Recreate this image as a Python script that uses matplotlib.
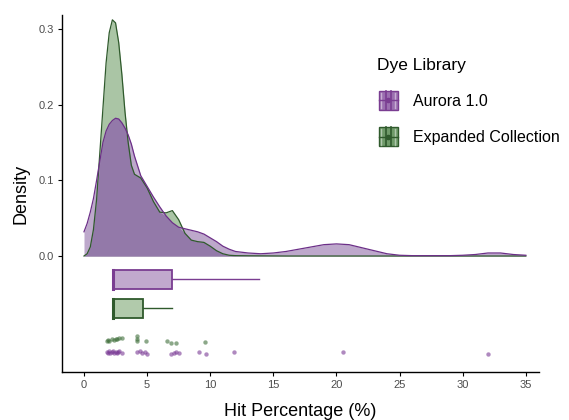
import matplotlib.pyplot as plt
import numpy as np
from matplotlib.legend_handler import HandlerBase
from matplotlib.patches import Rectangle
from matplotlib.lines import Line2D

plt.rcParams['font.family'] = ['Liberation Sans', 'DejaVu Sans']

# density curves (shared x grid)
dens_x = [0, 0.25, 0.5, 0.75, 1.0, 1.25, 1.5, 1.75, 2.0, 2.25, 2.5, 2.75, 3.0, 3.25, 3.5, 3.75, 4.0,
          4.5, 5.0, 5.5, 6.0, 6.5, 7.0, 7.5, 8.0, 8.5, 9.0, 9.5, 10.0, 10.5, 11.0, 11.5, 12.0,
          13, 14, 15, 16, 17, 18, 19, 20, 21, 22, 23, 24, 25, 26, 27, 28, 29, 30, 31, 32, 33, 34, 35]
aurora_dens = [0.032, 0.043, 0.058, 0.076, 0.100, 0.125, 0.150, 0.165, 0.174, 0.179, 0.182, 0.181, 0.176,
               0.169, 0.160, 0.148, 0.132, 0.106, 0.092, 0.078, 0.065, 0.053, 0.044, 0.038, 0.036, 0.034,
               0.032, 0.029, 0.024, 0.019, 0.013, 0.009, 0.006, 0.004, 0.003, 0.004, 0.006, 0.009, 0.012,
               0.015, 0.016, 0.015, 0.011, 0.007, 0.003, 0.001, 0.0005, 0.0005, 0.0005, 0.0005, 0.001,
               0.002, 0.004, 0.004, 0.002, 0.001]
expanded_dens = [0.0, 0.003, 0.012, 0.035, 0.075, 0.135, 0.195, 0.255, 0.295, 0.312, 0.308, 0.282, 0.240,
                 0.190, 0.150, 0.120, 0.108, 0.103, 0.090, 0.072, 0.058, 0.057, 0.060, 0.048, 0.030, 0.021,
                 0.019, 0.018, 0.013, 0.007, 0.003, 0.001, 0.0005, 0.0003, 0.0002, 0.0001, 0, 0, 0, 0, 0, 0,
                 0, 0, 0, 0, 0, 0, 0, 0, 0, 0, 0, 0, 0, 0]

# box plot stats: q1, median, q3, upper whisker
aurora_box = dict(q1=2.27, med=2.3, q3=7.0, hi=13.9)
expanded_box = dict(q1=2.27, med=2.3, q3=4.67, hi=7.0)

# raw hit percentages (with vertical jitter as drawn)
aurora_pts = [1.8, 1.9, 2.0, 2.1, 2.2, 2.3, 2.4, 2.5, 2.6, 2.7, 2.8, 3.0,
              4.2, 4.4, 4.6, 4.8, 5.0, 6.9, 7.1, 7.3, 7.5, 9.1, 9.7, 11.9, 20.5, 32.0]
aurora_jit = [-0.127, -0.128, -0.126, -0.128, -0.127, -0.126, -0.128, -0.127, -0.128, -0.127, -0.126, -0.128,
              -0.127, -0.126, -0.128, -0.127, -0.129, -0.129, -0.128, -0.127, -0.128, -0.127, -0.130, -0.127,
              -0.127, -0.129]
expanded_pts = [1.8, 1.9, 2.0, 2.2, 2.4, 2.5, 2.6, 2.8, 3.0, 4.2, 4.2, 4.2, 4.9, 6.6, 6.9, 7.3, 9.6]
expanded_jit = [-0.112, -0.111, -0.112, -0.110, -0.111, -0.110, -0.109, -0.108, -0.108, -0.105, -0.109,
                -0.112, -0.112, -0.112, -0.115, -0.115, -0.114]

purple_line = '#6c2f88'
green_line = '#2f5a2c'

fig = plt.figure(figsize=(5.69, 4.2), dpi=100)
ax = fig.add_axes([0.109, 0.1143, 0.838, 0.85])

x = np.array(dens_x)
pa = np.array(aurora_dens)
pe = np.array(expanded_dens)

# half-eye densities
ax.fill_between(x, 0, pe, color='#aac5a5', lw=0, zorder=1)
ax.fill_between(x, 0, pa, color='#bda8cb', lw=0, zorder=2)
ax.fill_between(x, 0, np.minimum(pa, pe), color='#9379a9', lw=0, zorder=3)
ax.plot(x, pe, color=green_line, lw=0.9, zorder=4)
ax.plot(x, pa, color=purple_line, lw=0.9, zorder=5)

# box plots
def draw_box(b, yc, fill, edge):
    h = 0.025
    ax.add_patch(Rectangle((b['q1'], yc - h / 2), b['q3'] - b['q1'], h,
                           facecolor=fill, edgecolor=edge, lw=1.3, zorder=3))
    ax.plot([b['med'], b['med']], [yc - h / 2, yc + h / 2], color=edge, lw=2.2, zorder=4)
    ax.plot([b['q3'], b['hi']], [yc, yc], color=edge, lw=1.0, zorder=2)

draw_box(aurora_box, -0.031, '#c1a9cd', '#7a3d91')
draw_box(expanded_box, -0.069, '#b1caab', green_line)

# jittered points
ax.scatter(expanded_pts, expanded_jit, s=10, color='#3f6f3b', alpha=0.6, lw=0, zorder=5)
ax.scatter(aurora_pts, aurora_jit, s=10, color='#7a3a95', alpha=0.6, lw=0, zorder=5)

ax.set_xlim(-1.74, 36.03)
ax.set_ylim(-0.1532, 0.3184)
ax.set_xticks([0, 5, 10, 15, 20, 25, 30, 35])
ax.set_yticks([0.0, 0.1, 0.2, 0.3])
ax.set_yticklabels(['0.0', '0.1', '0.2', '0.3'])
ax.tick_params(labelsize=8, labelcolor='#4d4d4d', length=3, width=0.8, pad=3)
for s in ['top', 'right']:
    ax.spines[s].set_visible(False)
for s in ['left', 'bottom']:
    ax.spines[s].set_linewidth(1.0)
ax.set_xlabel('Hit Percentage (%)', fontsize=13, labelpad=9)
ax.set_ylabel('Density', fontsize=13, labelpad=6)


class BoxKey(HandlerBase):
    def __init__(self, fill, edge):
        super().__init__()
        self.fill = fill
        self.edge = edge

    def create_artists(self, legend, orig_handle, xd, yd, width, height, fontsize, trans):
        s = min(width, height)
        x0 = -xd + (width - s) / 2
        y0 = -yd + (height - s) / 2
        arts = [Rectangle((x0, y0), s, s, facecolor=self.fill, edgecolor=self.edge, lw=1.0, transform=trans)]
        for f in (0.36, 0.64):
            arts.append(Line2D([x0 + f * s] * 2, [y0, y0 + s], color=self.edge, lw=1.2, transform=trans))
        for f in (0.14, 0.86):
            arts.append(Line2D([x0 + f * s] * 2, [y0 + 0.1 * s, y0 + 0.9 * s], color='white', lw=1.0,
                               alpha=0.45, transform=trans))
        arts.append(Line2D([x0, x0 + s], [y0 + s / 2] * 2, color=self.edge, lw=1.0, transform=trans))
        arts.append(Line2D([x0 + s / 2], [y0 + s / 2], marker='o', ms=3, color=self.edge, transform=trans))
        return arts


h1 = Rectangle((0, 0), 1, 1)
h2 = Rectangle((0, 0), 1, 1)
leg = fig.legend([h1, h2], ['Aurora 1.0', 'Expanded Collection'], title='Dye Library',
                 loc='upper left', bbox_to_anchor=(0.648, 0.88), frameon=False,
                 fontsize=11.5, title_fontsize=12.5, handlelength=1.45, handleheight=1.45,
                 labelspacing=1.1, handletextpad=0.8, borderpad=0,
                 handler_map={h1: BoxKey('#9b6fb0', '#7a3d91'), h2: BoxKey('#6f9a69', green_line)})
leg._legend_box.align = 'left'

fig.savefig('out.png', dpi=100)
